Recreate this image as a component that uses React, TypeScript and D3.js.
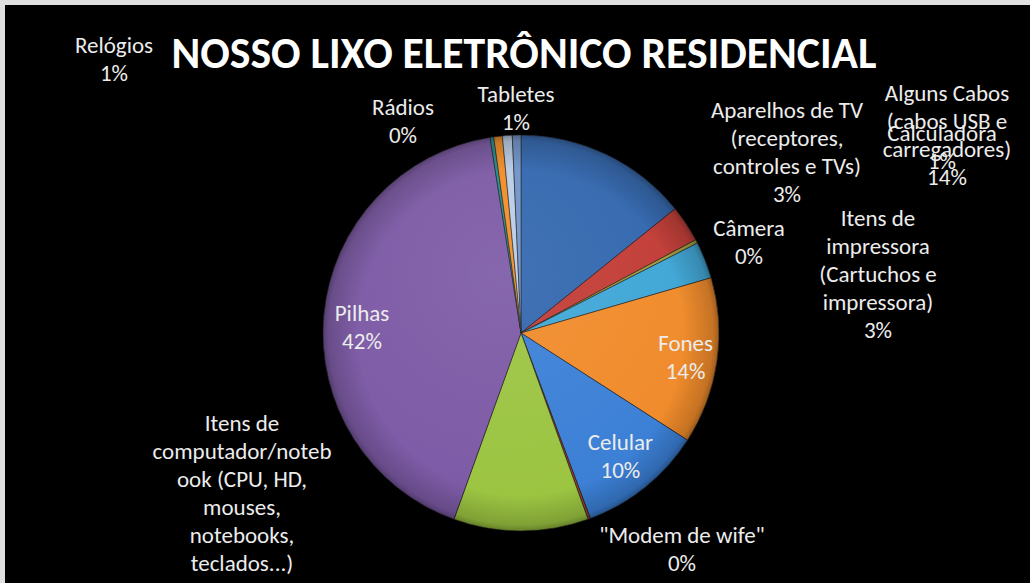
import React from 'react'
import * as d3 from 'd3'

// slices in clockwise order starting at 12 o'clock
const categories = [
  'Alguns Cabos (cabos USB e carregadores)',
  'Aparelhos de TV (receptores, controles e TVs)',
  'Câmera',
  'Itens de impressora (Cartuchos e impressora)',
  'Fones',
  'Celular',
  '"Modem de wife"',
  'Itens de computador/notebook (CPU, HD, mouses, notebooks, teclados...)',
  'Pilhas',
  'Rádios',
  'Relógios',
  'Tabletes',
  'Calculadora'
]
const values = [14.2, 3.0, 0.3, 3.0, 13.6, 10.2, 0.2, 11.0, 42.0, 0.3, 0.7, 0.8, 0.7]
const colors = [
  '#3166ae', '#c23b35', '#a39a3c', '#3ea6d6', '#f08a29', '#3a7fd6', '#9c3a2c',
  '#9bc440', '#7c59a5', '#1f8c8f', '#f28c25', '#b9cde6', '#6f93c9'
]
// label text as wrapped by the chart (percent line added from values)
const labelLines = [
  ['Alguns Cabos', '(cabos USB e', 'carregadores)'],
  ['Aparelhos de TV', '(receptores,', 'controles e TVs)'],
  ['Câmera'],
  ['Itens de', 'impressora', '(Cartuchos e', 'impressora)'],
  ['Fones'],
  ['Celular'],
  ['"Modem de wife"'],
  ['Itens de', 'computador/noteb', 'ook (CPU, HD,', 'mouses,', 'notebooks,', 'teclados...)'],
  ['Pilhas'],
  ['Rádios'],
  ['Relógios'],
  ['Tabletes'],
  ['Calculadora']
]
const showPercent = [true, true, true, true, true, true, true, false, true, true, true, true, true]
// label placement: inside labels sit on the slice at a radius fraction, outside ones are placed by hand
const labelInside = [null, null, null, null, 0.84, 0.8, null, null, null, null, null, null, null]
const labelOutside: ([number, number] | null)[] = [
  [947, 93], [787, 110], [749, 228], [878, 218], null, null, [682, 535],
  [242, 423], [362, 313], [403, 107], [114, 45], [516, 94], [942, 133]
]
const title = 'NOSSO LIXO ELETRÔNICO RESIDENCIAL'

const W = 1030
const H = 583
const cx = 521
const cy = 333
const R = 198
const LINE = 28
const FONT = 'Carlito, Calibri, Lato, sans-serif'

export default function App() {
  const pie = d3.pie<number>().sort(null).value(d => d)
  const arcs = pie(values)
  const arc = d3.arc<d3.PieArcDatum<number>>().innerRadius(0).outerRadius(R)
  const total = d3.sum(values)

  return (
    <div style={{ position: 'fixed', left: 0, top: 0 }}>
      <svg width={W} height={H} style={{ display: 'block' }}>
        <defs>
          <radialGradient id="rim" cx="50%" cy="50%" r="50%">
            <stop offset="0.82" stopColor="#000" stopOpacity={0} />
            <stop offset="0.97" stopColor="#000" stopOpacity={0.18} />
            <stop offset="1" stopColor="#000" stopOpacity={0.35} />
          </radialGradient>
          <radialGradient id="shine" cx="45%" cy="35%" r="65%">
            <stop offset="0" stopColor="#fff" stopOpacity={0.08} />
            <stop offset="1" stopColor="#fff" stopOpacity={0} />
          </radialGradient>
        </defs>
        <rect x={0} y={0} width={W} height={H} fill="#e0e0e0" />
        <rect x={5} y={5} width={W - 5} height={H - 5} fill="#000" />

        <text
          x={524}
          y={68}
          textAnchor="middle"
          fill="#ffffff"
          fontFamily={FONT}
          fontWeight="bold"
          fontSize={44}
          textLength={705}
          lengthAdjust="spacingAndGlyphs"
        >
          {title}
        </text>

        <g transform={`translate(${cx},${cy})`}>
          {arcs.map((a, i) => (
            <path key={i} d={arc(a) || ''} fill={colors[i]} stroke="#1a1a1a" strokeWidth={0.8} strokeOpacity={0.7} />
          ))}
          <circle r={R} fill="url(#rim)" />
          <circle r={R} fill="url(#shine)" />
        </g>

        {arcs.map((a, i) => {
          const pct = Math.round((values[i] / total) * 100) + '%'
          const lines = showPercent[i] ? [...labelLines[i], pct] : labelLines[i]
          let x: number
          let y0: number
          const inside = labelInside[i]
          if (inside != null) {
            const mid = (a.startAngle + a.endAngle) / 2
            x = cx + Math.sin(mid) * R * inside
            const yc = cy - Math.cos(mid) * R * inside
            y0 = yc - ((lines.length - 1) * LINE) / 2
          } else {
            const p = labelOutside[i] as [number, number]
            x = p[0]
            y0 = p[1]
          }
          return (
            <text
              key={'l' + i}
              textAnchor="middle"
              fill="#ececec"
              fontFamily={FONT}
              fontSize={23}
              dominantBaseline="central"
            >
              {lines.map((t, j) => (
                <tspan key={j} x={x} y={y0 + j * LINE}>
                  {t}
                </tspan>
              ))}
            </text>
          )
        })}
      </svg>
    </div>
  )
}
